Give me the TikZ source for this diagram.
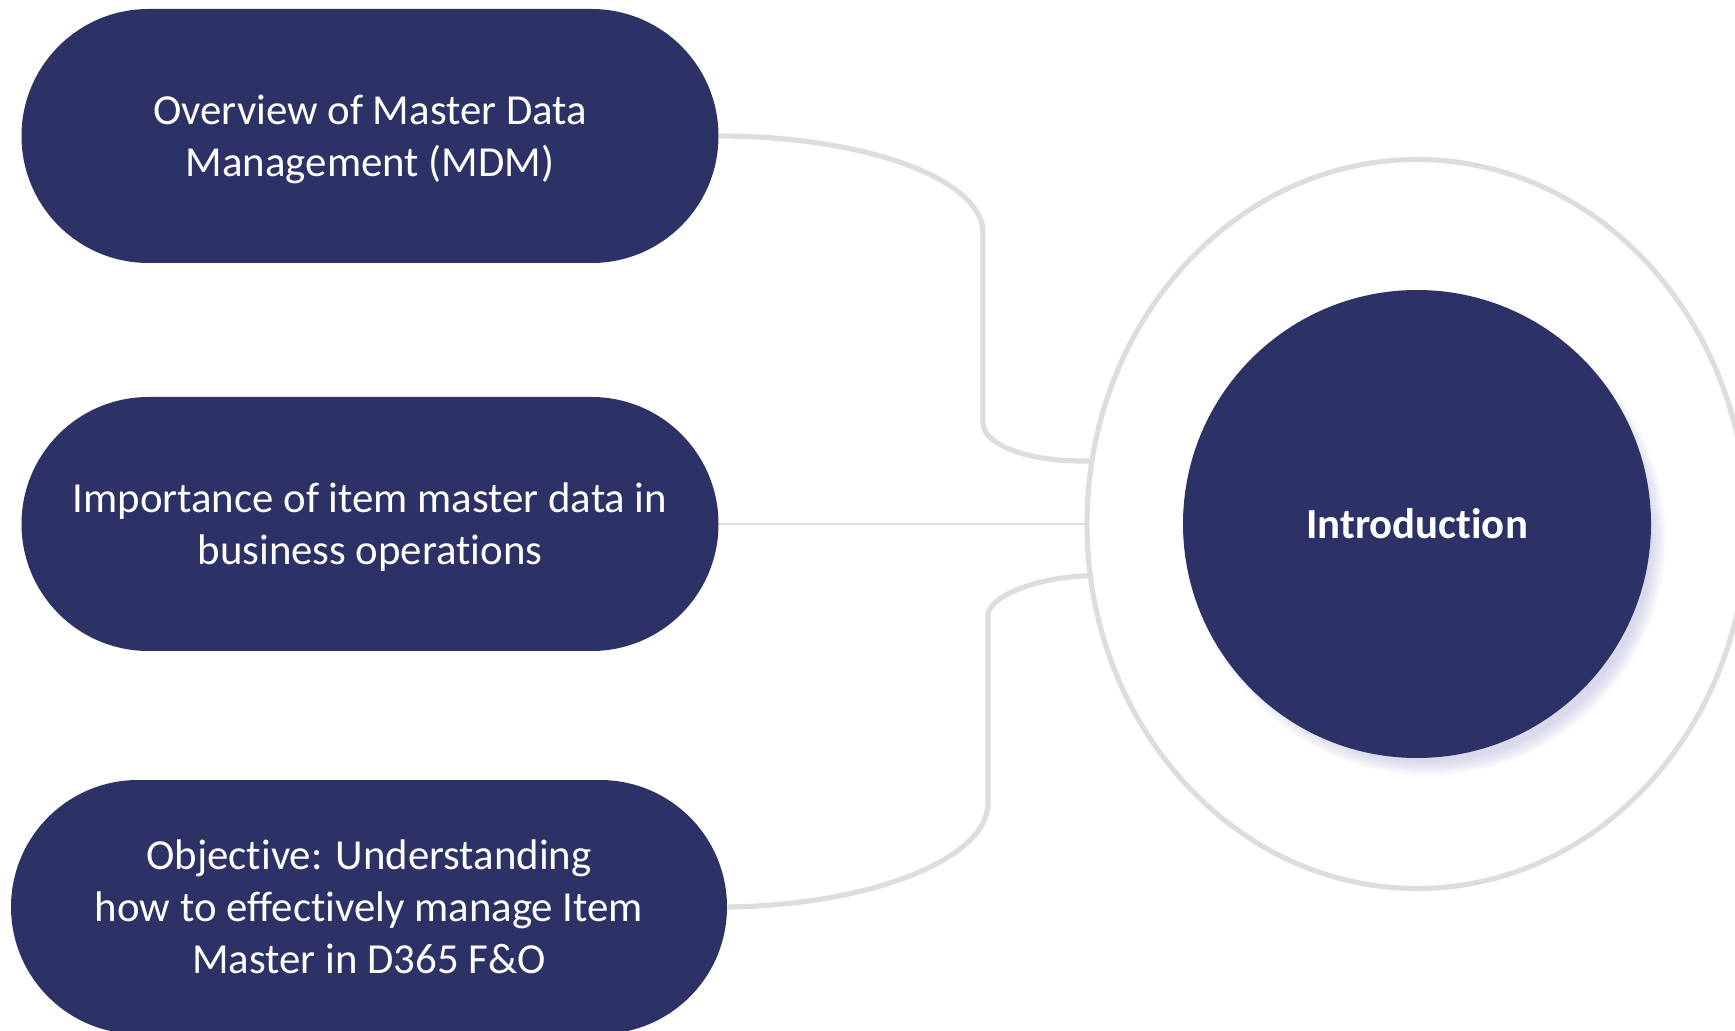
\documentclass[tikz,border=0pt]{standalone}
\usepackage{fontspec}
\setmainfont{Carlito}[Ligatures=CommonOff]
\usetikzlibrary{shapes.geometric, shapes.misc, positioning, calc, backgrounds}
\definecolor{mdmnavy}{HTML}{2C3266}
\definecolor{mdmgrey}{HTML}{DCDEDD}

\begin{document}
\begin{tikzpicture}[
  x=0.5pt, y=-0.5pt,
  topic/.style={
    rounded rectangle, minimum width=#1, minimum height=127pt,
    fill=mdmnavy, text=white, align=center, inner sep=0pt, text depth=0pt,
    font=\fontsize{21.4}{26}\selectfont
  },
  hub/.style={
    circle, minimum size=234pt, inner sep=0pt,
    fill=mdmnavy, text=white, font=\fontsize{21.4}{26}\selectfont\bfseries
  },
  link/.style={draw=mdmgrey, line width=2.6pt}
]
  \clip (0,0) rectangle (1735,1031);

  % outer ring and centre
  \node[ellipse, draw=mdmgrey, line width=2.6pt, minimum width=330pt,
        minimum height=364.5pt, inner sep=0pt, outer sep=0pt] (ring) at (1417,524) {};
  \node[hub] (intro) at (1417,524) {Introduction};
  \begin{scope}[on background layer]
    \foreach \s in {0,...,7}
      \fill[blue!25!mdmnavy, opacity=0.022] ($(intro.center)+(11,14)$) circle[radius=224+\s*2];
  \end{scope}

  % topics
  \node[topic=348.5pt] (overview) at (370,136) {Overview of Master Data\\Management (MDM)};
  \node[topic=348.5pt] (importance) at (370,524) {Importance of item master data in\\business operations};
  \node[topic=358pt] (objective) at (369,907) {Objective: Understanding\\how to effectively manage Item\\Master in D365 F\&O};

  % connectors
  \draw[link] (overview.east) .. controls +(146,0) and (983,179) .. (983,233)
    -- (983,423) .. controls (983,445) and (1030,463) .. (ring.169);
  \draw[link, line width=1pt] (importance.east) -- (ring.west);
  \draw[link] (ring.189) .. controls (1033,577) and (988,598) .. (988,615)
    -- (988,803) .. controls (988,859) and (871,905) .. (objective.east);
\end{tikzpicture}
\end{document}
